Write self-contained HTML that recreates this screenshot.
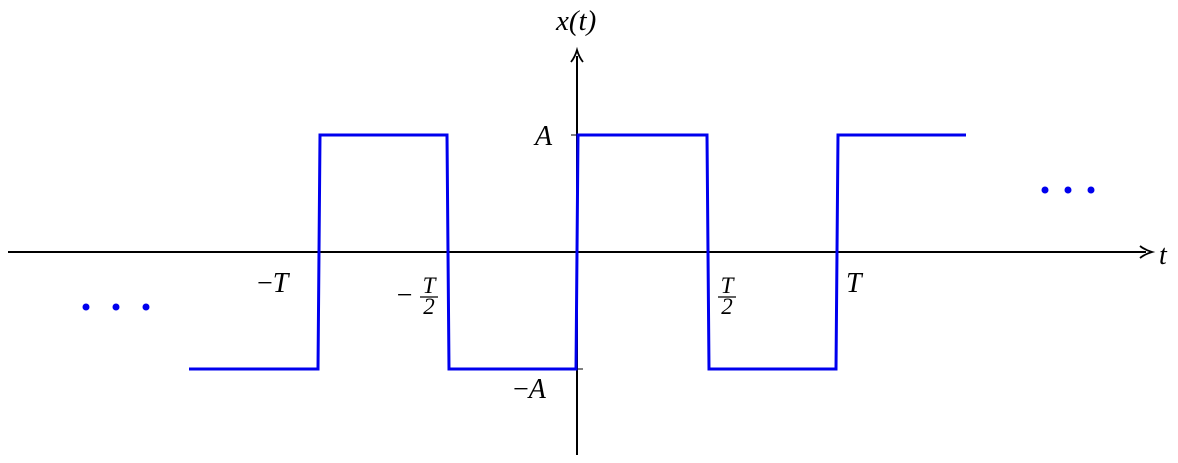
<!DOCTYPE html>
<html><head><style>body{margin:0;background:#fff}svg{display:block}text{font-family:"Liberation Serif",serif;font-style:italic;fill:#000}</style></head><body>
<svg width="1178" height="463" viewBox="0 0 1178 463">
<line x1="8" y1="252" x2="1146" y2="252" stroke="#000" stroke-width="2"/>
<path d="M1140,246 Q1145,250 1152,252 Q1145,254 1140,258" fill="none" stroke="#000" stroke-width="1.8"/>
<line x1="577" y1="455" x2="577" y2="56" stroke="#000" stroke-width="2"/>
<path d="M571,62 Q575,57 577,50 Q579,57 583,62" fill="none" stroke="#000" stroke-width="1.8"/>
<line x1="571" y1="135" x2="583" y2="135" stroke="#000" stroke-width="1"/>
<line x1="571" y1="369" x2="583" y2="369" stroke="#000" stroke-width="1"/>
<polyline points="189,369 318,369 320,135 447,135 449,369 576,369 578,135 707,135 709,369 836,369 838,135 966,135" fill="none" stroke="#0000ee" stroke-width="3"/>
<text x="556" y="30" font-size="29">x(t)</text>
<text x="1159" y="264" font-size="28">t</text>
<text x="535" y="145" font-size="28">A</text>
<text x="513" y="398" font-size="28"><tspan font-style="normal">−</tspan>A</text>
<text x="257" y="292" font-size="28"><tspan font-style="normal">−</tspan>T</text>
<text x="846" y="292" font-size="28">T</text>
<text x="395" y="304" font-size="28" font-style="normal">−</text>
<text x="429" y="293" font-size="23" text-anchor="middle">T</text>
<line x1="420" y1="297" x2="438" y2="297" stroke="#000" stroke-width="1.3"/>
<text x="429" y="314" font-size="23" text-anchor="middle" font-style="normal">2</text>
<text x="727" y="293" font-size="23" text-anchor="middle">T</text>
<line x1="718" y1="297" x2="736" y2="297" stroke="#000" stroke-width="1.3"/>
<text x="727" y="314" font-size="23" text-anchor="middle" font-style="normal">2</text>
<g fill="#0000ee"><circle cx="86" cy="307" r="3.5"/><circle cx="116" cy="307" r="3.5"/><circle cx="146" cy="307" r="3.5"/>
<circle cx="1045" cy="190" r="3.5"/><circle cx="1068" cy="190" r="3.5"/><circle cx="1091" cy="190" r="3.5"/></g>
</svg>
</body></html>
